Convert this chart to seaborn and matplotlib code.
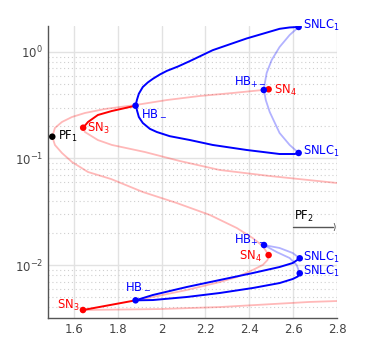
import matplotlib
matplotlib.use("Agg")
import matplotlib.pyplot as plt
import seaborn as sns
from matplotlib.ticker import LogLocator, NullFormatter

# DADOS
# ramo instavel de cima: PF1 -> HB_ -> SN4
pink_top_x = [1.501, 1.513, 1.545, 1.591, 1.650, 1.741, 1.882, 2.024, 2.174, 2.324, 2.461, 2.488]
pink_top_y = [0.1602, 0.1934, 0.2202, 0.2453, 0.2675, 0.2916, 0.318, 0.354, 0.3863, 0.412, 0.4396, 0.4464]

# ramo instavel saindo de SN3 para a direita
pink_sn3_x = [1.642, 1.650, 1.709, 1.773, 1.923, 2.083, 2.265, 2.493, 2.800]
pink_sn3_y = [0.1946, 0.1773, 0.149, 0.134, 0.1151, 0.0947, 0.078, 0.0685, 0.0589]

# ramo instavel PF1 para baixo, dobra em SN4 e volta ate HB_
pink_s_x = [1.501, 1.513, 1.545, 1.591, 1.664, 1.769, 1.914, 2.069, 2.220, 2.343, 2.415, 2.461,
            2.488, 2.483, 2.461, 2.415, 2.343, 2.265, 2.115, 1.960, 1.881]
pink_s_y = [0.1602, 0.134, 0.1127, 0.0927, 0.0747, 0.0642, 0.0485, 0.0382, 0.0295, 0.02225, 0.01793, 0.01509,
            0.0124, 0.01114, 0.0100, 0.00897, 0.00771, 0.00692, 0.00583, 0.00501, 0.00466]

# ramo instavel de baixo saindo de SN3
pink_low_x = [1.641, 1.992, 2.265, 2.675, 2.800]
pink_low_y = [0.00378, 0.00386, 0.00403, 0.0045, 0.00459]

# ramos estaveis (vermelho)
red_top_x = [1.642, 1.664, 1.709, 1.773, 1.881]
red_top_y = [0.1946, 0.2202, 0.2561, 0.2793, 0.3131]
red_low_x = [1.641, 1.881]
red_low_y = [0.00378, 0.00466]

# ciclos estaveis (azul)
blue_up1_x = [1.882, 1.887, 1.896, 1.914, 1.937, 1.960, 1.992, 2.024, 2.074, 2.128, 2.233, 2.388, 2.538, 2.584, 2.625]
blue_up1_y = [0.318, 0.354, 0.406, 0.469, 0.518, 0.560, 0.615, 0.665, 0.73, 0.82, 1.04, 1.34, 1.65, 1.70, 1.717]
blue_up2_x = [1.882, 1.887, 1.896, 1.914, 1.946, 1.978, 2.037, 2.128, 2.233, 2.388, 2.538, 2.607, 2.625]
blue_up2_y = [0.318, 0.285, 0.245, 0.2155, 0.190, 0.1773, 0.162, 0.1492, 0.134, 0.1202, 0.1102, 0.1102, 0.1127]
blue_lo1_x = [1.881, 1.960, 2.115, 2.265, 2.415, 2.538, 2.598, 2.630]
blue_lo1_y = [0.00466, 0.00523, 0.00622, 0.00723, 0.0084, 0.00958, 0.01044, 0.01156]
blue_lo2_x = [1.881, 1.960, 2.115, 2.265, 2.415, 2.538, 2.598, 2.621, 2.630]
blue_lo2_y = [0.00466, 0.00469, 0.00501, 0.00546, 0.00608, 0.00677, 0.00739, 0.0078, 0.00836]

# ciclos instaveis (azul claro)
lblue_up_x = [2.625, 2.584, 2.538, 2.502, 2.479, 2.466, 2.475, 2.493, 2.538, 2.584, 2.625]
lblue_up_y = [1.717, 1.444, 1.114, 0.841, 0.635, 0.449, 0.354, 0.2733, 0.1735, 0.134, 0.1127]
lblue_lo1_x = [2.467, 2.538, 2.598, 2.630]
lblue_lo1_y = [0.0154, 0.01445, 0.01296, 0.01156]
lblue_lo2_x = [2.467, 2.525, 2.584, 2.616, 2.630]
lblue_lo2_y = [0.0154, 0.01324, 0.01163, 0.0100, 0.00836]

# pontos de bifurcacao
pf_x, pf_y = [1.501], [0.1602]
sn_x = [1.642, 2.488, 2.488, 1.641]
sn_y = [0.1946, 0.4464, 0.0124, 0.00378]
hb_x = [1.881, 2.466, 2.625, 2.625, 2.467, 2.630, 2.630, 1.881]
hb_y = [0.3131, 0.4396, 1.717, 0.1127, 0.0154, 0.01156, 0.00836, 0.00466]

# rotulos: texto, x, y, cor
rotulos = [
    ("PF$_1$", 1.527, 0.1492, "black"),
    ("SN$_3$", 1.659, 0.1773, "red"),
    ("HB$_-$", 1.905, 0.2506, "blue"),
    ("HB$_{+-}$", 2.329, 0.4795, "blue"),
    ("SN$_4$", 2.511, 0.4033, "red"),
    ("SNLC$_1$", 2.643, 1.644, "blue"),
    ("SNLC$_1$", 2.643, 0.1078, "blue"),
    ("HB$_{+-}$", 2.329, 0.01570, "blue"),
    ("SN$_4$", 2.352, 0.01110, "red"),
    ("SNLC$_1$", 2.643, 0.0110, "blue"),
    ("SNLC$_1$", 2.643, 0.00815, "blue"),
    ("HB$_-$", 1.832, 0.00595, "blue"),
    ("SN$_3$", 1.523, 0.00386, "red"),
    ("PF$_2$", 2.602, 0.02646, "black"),
]

sns.set_style("whitegrid")
plt.rcParams["font.family"] = ["DejaVu Sans"]
plt.rcParams["mathtext.fontset"] = "dejavusans"

fig = plt.figure(figsize=(3.73, 3.58), dpi=100)
ax = fig.add_axes([0.1287, 0.1117, 0.7748, 0.8157])

rosa = dict(color="red", alpha=0.28, linewidth=1.3)
for xs, ys in [(pink_top_x, pink_top_y), (pink_sn3_x, pink_sn3_y), (pink_s_x, pink_s_y), (pink_low_x, pink_low_y)]:
    sns.lineplot(x=xs, y=ys, sort=False, estimator=None, ax=ax, **rosa)

azul_claro = dict(color="blue", alpha=0.3, linewidth=1.3)
for xs, ys in [(lblue_up_x, lblue_up_y), (lblue_lo1_x, lblue_lo1_y), (lblue_lo2_x, lblue_lo2_y)]:
    sns.lineplot(x=xs, y=ys, sort=False, estimator=None, ax=ax, **azul_claro)

for xs, ys in [(blue_up1_x, blue_up1_y), (blue_up2_x, blue_up2_y), (blue_lo1_x, blue_lo1_y), (blue_lo2_x, blue_lo2_y)]:
    sns.lineplot(x=xs, y=ys, sort=False, estimator=None, ax=ax, color="blue", linewidth=1.4)

for xs, ys in [(red_top_x, red_top_y), (red_low_x, red_low_y)]:
    sns.lineplot(x=xs, y=ys, sort=False, estimator=None, ax=ax, color="red", linewidth=1.4)

sns.scatterplot(x=pf_x, y=pf_y, color="black", s=22, edgecolor="none", ax=ax, zorder=5)
sns.scatterplot(x=sn_x, y=sn_y, color="red", s=22, edgecolor="none", ax=ax, zorder=5)
sns.scatterplot(x=hb_x, y=hb_y, color="blue", s=22, edgecolor="none", ax=ax, zorder=6)

for texto, x, y, cor in rotulos:
    ax.text(x, y, texto, color=cor, fontsize=8.3, ha="left", va="baseline")

# seta do PF2
ax.plot([2.6, 2.78], [0.0227, 0.0227], color="#555555", linewidth=1)
ax.text(2.777, 0.0227, ")", fontsize=6, color="#333333", ha="left", va="center")

ax.set_yscale("log")
ax.set_xlim(1.4815, 2.8)
ax.set_ylim(0.00318, 1.754)
ax.set_xticks([1.6, 1.8, 2.0, 2.2, 2.4, 2.6, 2.8])
ax.set_xticklabels(["1.6", "1.8", "2", "2.2", "2.4", "2.6", "2.8"])
ax.yaxis.set_major_locator(LogLocator(base=10, numticks=10))
ax.yaxis.set_minor_locator(LogLocator(base=10, subs=range(2, 10), numticks=20))
ax.yaxis.set_minor_formatter(NullFormatter())

ax.grid(True, which="major", color="#e2e2e2", linewidth=1, linestyle="-")
ax.grid(True, which="minor", axis="y", color="#cfcfcf", linewidth=0.8, linestyle=(0, (1, 2.5)))
ax.set_axisbelow(True)

for lado in ["top", "right"]:
    ax.spines[lado].set_visible(False)
for lado in ["left", "bottom"]:
    ax.spines[lado].set_color("#555555")
    ax.spines[lado].set_linewidth(1)

ax.tick_params(axis="both", which="major", labelsize=8.5, labelcolor="#444444", direction="in", length=3, color="#555555")
ax.tick_params(axis="y", which="minor", direction="in", length=2, color="#777777")

plt.savefig("out.png", dpi=100)
